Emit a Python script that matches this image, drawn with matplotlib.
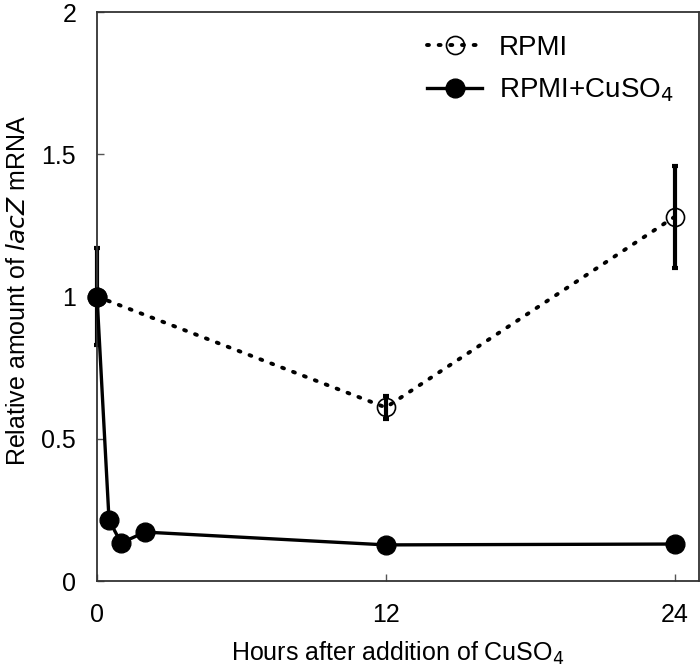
import numpy as np
import matplotlib.pyplot as plt

plt.rcParams['font.family'] = ['Liberation Sans', 'DejaVu Sans']

# dane
t_rpmi = [0, 12, 24]
y_rpmi = [1.0, 0.61, 1.28]
err_rpmi = [0.17, 0.042, 0.18]

t_cu = [0, 0.5, 1, 2, 12, 24]
y_cu = [1.0, 0.214, 0.134, 0.172, 0.127, 0.13]

xticks = [0, 12, 24]
yticks = [0, 0.5, 1, 1.5, 2]
yticklabels = ['0', '0.5', '1', '1.5', '2']

fig = plt.figure(figsize=(7, 6.69), dpi=100)
ax = fig.add_axes([0.1386, 0.1315, 0.8594, 0.8505])

ax.errorbar(t_rpmi, y_rpmi, yerr=err_rpmi, fmt='none', ecolor='black',
            elinewidth=3, capsize=2.2, capthick=3, zorder=2, clip_on=False)
ax.plot(t_rpmi, y_rpmi, color='black', lw=2.8, linestyle=(0, (0.5, 2.5)),
        dash_capstyle='round', marker='o', ms=13, mfc='none', mec='black',
        mew=1.2, label='RPMI', zorder=3, clip_on=False)
ax.plot(t_cu, y_cu, color='black', lw=2.4, marker='o', ms=13.5,
        mfc='black', mec='black', label='RPMI+CuSO$_4$', zorder=4,
        clip_on=False)

ax.set_xlim(0, 25)
ax.set_ylim(0, 2)
ax.set_xticks(xticks)
ax.set_yticks(yticks)
ax.set_yticklabels(yticklabels)
ax.tick_params(direction='in', length=5, width=1, color='#555555',
               labelsize=18)
ax.tick_params(axis='x', pad=16)
ax.tick_params(axis='y', pad=15)
for s in ax.spines.values():
    s.set_linewidth(1.3)
    s.set_color('#333333')

ax.set_xlabel('Hours after addition of CuSO$_4$', fontsize=18, labelpad=9)
ax.set_ylabel('Relative amount of $\\it{lacZ}$ mRNA', fontsize=18)
ax.yaxis.set_label_coords(-0.112, 0.51)

ax.legend(loc='upper left', bbox_to_anchor=(0.525, 0.984), frameon=False,
          fontsize=20, handlelength=2.0, labelspacing=0.55, handletextpad=0.6,
          borderpad=0)

plt.savefig('out.png', dpi=100)
